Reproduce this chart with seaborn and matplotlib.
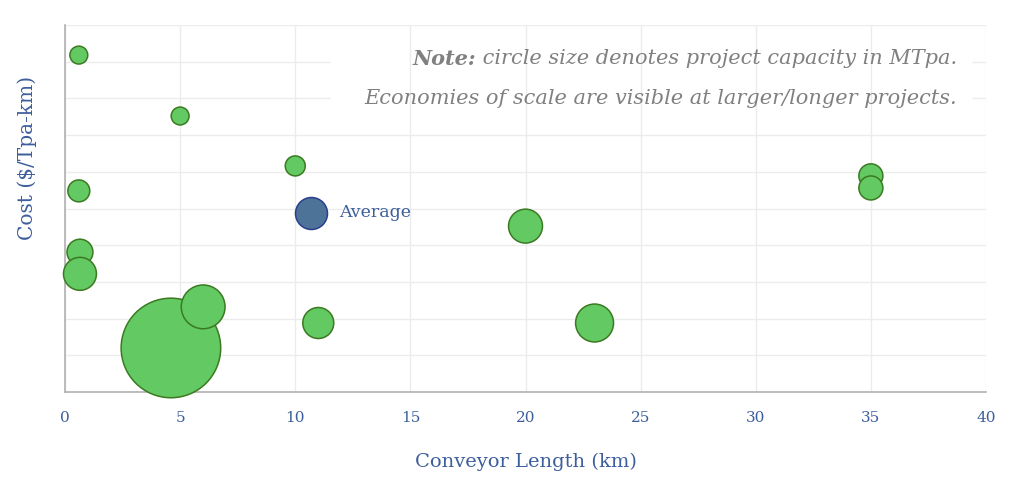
import pandas as pd
import seaborn as sns
import matplotlib.pyplot as plt

sns.set_theme(style='white')
plt.rcParams['font.family'] = ['DejaVu Serif']

# projects: conveyor length (km), cost (grid units, y axis unlabelled), capacity (MTpa)
length = [0.6, 5.0, 10.0, 0.6, 0.65, 0.65, 4.6, 6.0, 11.0, 20.0, 23.0, 35.0, 35.0]
cost = [9.18, 7.52, 6.16, 5.48, 3.81, 3.22, 1.20, 2.32, 1.88, 4.52, 1.88, 5.89, 5.56]
capacity = [2.0, 2.0, 2.5, 3.0, 4.2, 6.8, 62.0, 12.0, 6.0, 7.2, 9.0, 3.6, 3.6]

avg_length = [10.7]
avg_cost = [4.88]
avg_capacity = [6.4]

x_ticks = [0, 5, 10, 15, 20, 25, 30, 35, 40]

df = pd.DataFrame({'length': length, 'cost': cost, 'capacity': capacity})
avg = pd.DataFrame({'length': avg_length, 'cost': avg_cost, 'capacity': avg_capacity})

blue = '#3d5e9c'
grid_c = '#ececec'
cmax = 62.0
smax = 82.9 * cmax

fig = plt.figure(figsize=(10.24, 4.88), dpi=100)
ax = fig.add_axes([65 / 1024, 96 / 488, 921 / 1024, 367 / 488])

sns.scatterplot(data=df, x='length', y='cost', size='capacity', sizes=(0, smax),
                size_norm=(0, cmax), color='#63c962', edgecolor='#3b7a22',
                linewidth=1.1, alpha=1, legend=False, clip_on=False, zorder=3, ax=ax)
sns.scatterplot(data=avg, x='length', y='cost', size='capacity', sizes=(0, smax),
                size_norm=(0, cmax), color='#4e7399', edgecolor='#2a3f8c',
                linewidth=1.1, alpha=1, legend=False, clip_on=False, zorder=3, ax=ax)
ax.text(11.9, 4.88, 'Average', color=blue, fontsize=12.5, va='center', ha='left')

ax.set_xlim(0, 40)
ax.set_ylim(0, 10)
ax.set_xticks(x_ticks)
ax.set_yticks(range(0, 11))
ax.set_yticklabels([])
ax.tick_params(axis='both', length=0)
ax.tick_params(axis='x', labelsize=11, labelcolor=blue, pad=14)
ax.grid(True, axis='x', color=grid_c, linewidth=1.0)
# horizontal grid, interrupted behind the note
gap = (11.5, 39.4)
for yv in range(1, 11):
    if yv in (8, 9):
        ax.hlines(yv, 0, gap[0], color=grid_c, linewidth=1.0, zorder=0.5)
        ax.hlines(yv, gap[1], 40, color=grid_c, linewidth=1.0, zorder=0.5)
    else:
        ax.hlines(yv, 0, 40, color=grid_c, linewidth=1.0, zorder=0.5)
ax.set_axisbelow(True)
for s in ['top', 'right']:
    ax.spines[s].set_visible(False)
for s in ['left', 'bottom']:
    ax.spines[s].set_color('#b0b0b0')
    ax.spines[s].set_linewidth(1.2)

ax.set_xlabel('Conveyor Length (km)', fontsize=14, color=blue, labelpad=20)
ax.set_ylabel('Cost ($/Tpa-km)', fontsize=14.5, color=blue)
ax.yaxis.set_label_coords(-0.030, 0.638)

note_x = (957 - 65) / 921
t1 = ax.text(note_x, (392 - 59) / 367, ' circle size denotes project capacity in MTpa.',
             transform=ax.transAxes, ha='right', va='center', fontsize=15,
             style='italic', color='#808080', zorder=4)
ax.text(note_x, (392 - 99) / 367, 'Economies of scale are visible at larger/longer projects.',
        transform=ax.transAxes, ha='right', va='center', fontsize=15,
        style='italic', color='#808080', zorder=4)
fig.canvas.draw()
bb = t1.get_window_extent(renderer=fig.canvas.get_renderer())
left = ax.transAxes.inverted().transform((bb.x0, bb.y0))[0]
ax.text(left, (392 - 59) / 367, 'Note:', transform=ax.transAxes, ha='right',
        va='center', fontsize=15, style='italic', weight='bold', color='#808080',
        zorder=4)

fig.savefig('out.png', dpi=100)
